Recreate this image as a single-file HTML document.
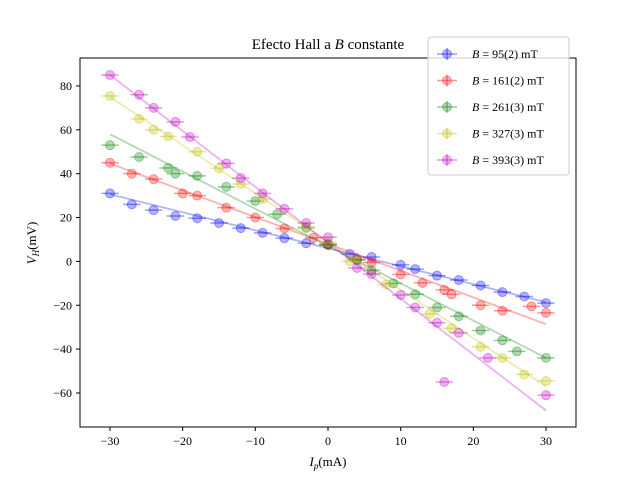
<!DOCTYPE html>
<html><head><meta charset="utf-8"><style>
body{margin:0;background:#fff;}
svg text{font-family:"Liberation Serif",serif;fill:#000;}
</style></head><body>
<svg id="chart" width="640" height="480">
<text x="328" y="49" font-size="15" text-anchor="middle">Efecto Hall a <tspan font-style="italic">B</tspan> constante</text>
<g id="plot"></g>
<rect x="80" y="58" width="496" height="369" fill="none" stroke="#000" stroke-width="1"/>
<text x="328" y="466" font-size="13" text-anchor="middle"><tspan font-style="italic">I</tspan><tspan font-size="9" dy="3" font-style="italic">p</tspan><tspan dy="-3">(mA)</tspan></text>
<text transform="translate(36,243) rotate(-90)" font-size="13" text-anchor="middle"><tspan font-style="italic">V</tspan><tspan font-size="9" dy="3" font-style="italic">H</tspan><tspan dy="-3">(mV)</tspan></text>
<g id="legend"></g>
</svg>
<script>
const xTicks=[-30,-20,-10,0,10,20,30];
const yTicks=[-60,-40,-20,0,20,40,60,80];
const seriesLabels=["95(2)","161(2)","261(3)","327(3)","393(3)"];
const seriesColors=["#0000ff","#ff0000","#008000","#bfbf00","#bf00bf"];
const blueX=[-30,-27,-24,-21,-18,-15,-12,-9,-6,-3,0,3,6,10,12,15,18,21,24,27,30];
const blueY=[31,26,23.4,20.7,19.7,17.5,15.2,13,10.6,8.3,7.9,3.4,2,-1.6,-3.5,-6.5,-8.5,-11,-14,-16,-19];
const redX=[-30,-27,-24,-20,-18,-14,-10,-6,-2,0,4,6,10,13,16,17,21,24,28,30];
const redY=[45,40,37.5,31,30,24.5,20,15,10.8,7.5,1,-0.5,-6,-9.8,-13,-15,-20,-22.5,-20.5,-23.5];
const greenX=[-30,-26,-22,-21,-18,-14,-10,-7,-3,0,4,6,9,12,15,18,21,24,26,30];
const greenY=[53,47.6,42.6,40,39,34,27.5,21.5,15.3,7.5,0.6,-4,-10,-15,-21,-25,-31.5,-36,-41,-44];
const yellowX=[-30,-26,-24,-22,-18,-15,-12,-9,-3,0,3,8,14,17,21,24,27,30];
const yellowY=[75.4,65,60,57,50,42.5,35.3,28.4,15.7,8.8,0,-10.6,-24,-30.5,-39,-44,-51.5,-54.5];
const magentaX=[-30,-26,-24,-21,-19,-14,-12,-9,-6,-3,0,4,6,10,12,15,18,22,16,30];
const magentaY=[85,76,70,63.6,56.7,44.7,38,31,24,17.5,11,-3,-5.8,-15.3,-21,-28,-32.6,-44,-55,-61];
const fitSlope=[-0.82,-1.22,-1.7,-2.2,-2.55];
const fitIntercept=[6,8,7,9,8.5];
const allX=[blueX,redX,greenX,yellowX,magentaX];
const allY=[blueY,redY,greenY,yellowY,magentaY];
const NS="http://www.w3.org/2000/svg";
const sx=v=>328+v*7.267, sy=v=>261.4-v*2.193;
const plot=document.getElementById('plot'), svg=document.getElementById('chart');
function mk(t,a,p){const e=document.createElementNS(NS,t);for(const k in a)e.setAttribute(k,a[k]);(p||plot).appendChild(e);return e;}
xTicks.forEach(t=>{
 const l=mk('line',{x1:sx(t),x2:sx(t),y1:427,y2:431,stroke:'#000'},svg);
 
 
 const tx=mk('text',{x:sx(t),y:445,'font-size':12,'text-anchor':'middle'},svg);
 tx.textContent=(t<0?'\u2212':'')+Math.abs(t);
 
 
});
yTicks.forEach(t=>{
 const l=mk('line',{x1:76,x2:80,y1:sy(t),y2:sy(t),stroke:'#000'},svg);
 
 
 const tx=mk('text',{x:72,y:sy(t)+4,'font-size':12,'text-anchor':'end'},svg);
 tx.textContent=(t<0?'\u2212':'')+Math.abs(t);
 
 
});
for(let s=0;s<5;s++){
 const c=seriesColors[s];
 const ln=mk('line',{x1:sx(-30),y1:sy(fitIntercept[s]-30*fitSlope[s]),x2:sx(30),y2:sy(fitIntercept[s]+30*fitSlope[s]),stroke:c,'stroke-width':1.8,'stroke-opacity':0.3});
 
 
 allX[s].forEach((x,i)=>{
  const y=allY[s][i];
  const eb=mk('line',{x1:sx(x-1.2),x2:sx(x+1.2),y1:sy(y),y2:sy(y),stroke:c,'stroke-width':1.5,'stroke-opacity':0.4});
  
  
  const p=mk('circle',{cx:sx(x),cy:sy(y),r:4.5,fill:c,'fill-opacity':0.3,stroke:c,'stroke-opacity':0.35});
  
  
 });
}
const lg=document.getElementById('legend');
const box=mk('rect',{x:428,y:37,width:141,height:138,rx:3,fill:'#fff','fill-opacity':0.8,stroke:'#ccc'},lg);


seriesLabels.forEach((lab,s)=>{
 const y=54+s*26.5, c=seriesColors[s];
 mk('line',{x1:437,x2:457,y1:y,y2:y,stroke:c,'stroke-opacity':0.4,'stroke-width':1.5},lg);
 mk('line',{x1:447,x2:447,y1:y-6,y2:y+6,stroke:c,'stroke-opacity':0.4,'stroke-width':1.5},lg);
 mk('circle',{cx:447,cy:y,r:4.5,fill:c,'fill-opacity':0.3,stroke:c,'stroke-opacity':0.35},lg);
 const t=mk('text',{x:472,y:y+4,'font-size':12},lg);
 t.innerHTML='<tspan font-style="italic">B</tspan> = '+lab+' mT';
 
 
});
</script>
</body></html>
